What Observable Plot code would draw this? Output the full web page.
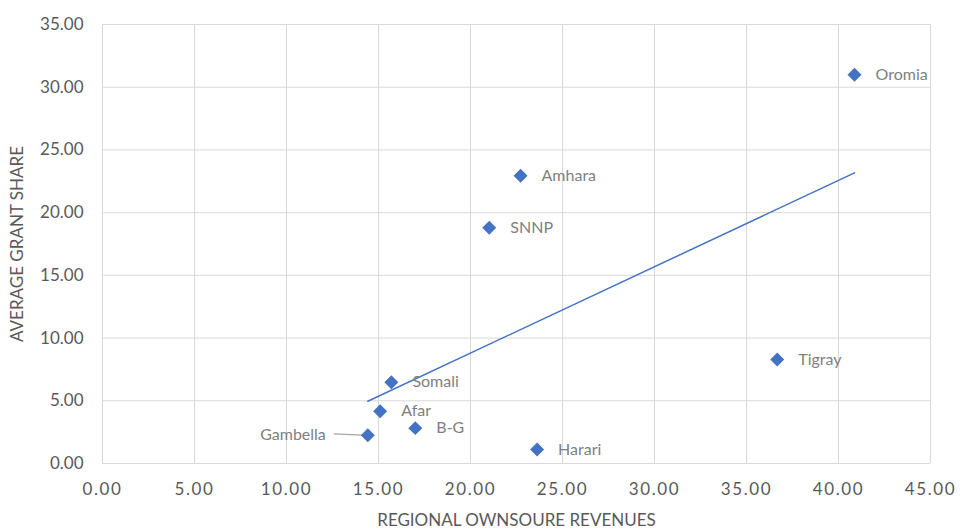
<!DOCTYPE html>
<html>
<head>
<meta charset="utf-8">
<script src="https://cdn.jsdelivr.net/npm/d3@7"></script>
<script src="https://cdn.jsdelivr.net/npm/@observablehq/plot@0.6"></script>
<style>
  html, body { margin: 0; padding: 0; background: #fff; }
  g[aria-label="x-axis tick label"] text { letter-spacing: 1.6px; }
</style>
</head>
<body>
<div id="chart"></div>
<script>
const regions    = ["Oromia", "Amhara", "SNNP", "Tigray", "Somali", "Afar", "B-G", "Gambella", "Harari"];
const revenues   = [40.87, 22.72, 21.02, 36.67, 15.70, 15.09, 17.00, 14.42, 23.62];
const grantShare = [31.00, 22.95, 18.80, 8.30, 6.48, 4.17, 2.82, 2.26, 1.12];
const xTicks = [0, 5, 10, 15, 20, 25, 30, 35, 40, 45];
const yTicks = [0, 5, 10, 15, 20, 25, 30, 35];
const leftLabeled = ["Gambella"];

const data = regions.map((r, i) => ({region: r, x: revenues[i], y: grantShare[i]}));
const rightData = data.filter(d => !leftLabeled.includes(d.region));
const leftData = data.filter(d => leftLabeled.includes(d.region));

const chart = Plot.plot({
  width: 960,
  height: 529,
  marginLeft: 102,
  marginRight: 30,
  marginTop: 24,
  marginBottom: 66,
  style: {fontFamily: "Lato, 'Noto Sans', sans-serif", fontSize: "16px", color: "#595959", background: "#fff"},
  x: {domain: [0, 45]},
  y: {domain: [0, 35]},
  marks: [
    Plot.gridX(xTicks, {stroke: "#d9d9d9", strokeOpacity: 1, strokeWidth: 1}),
    Plot.gridY(yTicks, {stroke: "#d9d9d9", strokeOpacity: 1, strokeWidth: 1}),
    Plot.linearRegressionY(data, {x: "x", y: "y", stroke: "#4472c4", strokeWidth: 1.5, ci: 0}),
    Plot.link(leftData, {x1: d => d.x - 1.85, y1: d => d.y + 0.1, x2: d => d.x - 0.3, y2: d => d.y, stroke: "#a6a6a6", strokeWidth: 1.2}),
    Plot.dot(data, {x: "x", y: "y", symbol: "diamond2", r: 6.3, fill: "#4472c4", stroke: "none"}),
    Plot.text(rightData, {x: "x", y: "y", text: "region", dx: 21, textAnchor: "start", fill: "#7f7f7f", fontSize: 16}),
    Plot.text(leftData, {x: "x", y: "y", text: "region", dx: -42, textAnchor: "end", fill: "#7f7f7f", fontSize: 16}),
    Plot.axisX(xTicks, {tickSize: 0, tickPadding: 19, tickFormat: d3.format(".2f"), fontSize: 17,
      label: "REGIONAL OWNSOURE REVENUES", labelAnchor: "center", labelArrow: "none", labelOffset: 62}),
    Plot.axisY(yTicks, {tickSize: 0, tickPadding: 19, tickFormat: d3.format(".2f"), fontSize: 17,
      label: "AVERAGE GRANT SHARE", labelAnchor: "center", labelArrow: "none", labelOffset: 92})
  ]
});
document.getElementById("chart").appendChild(chart);
</script>
</body>
</html>
